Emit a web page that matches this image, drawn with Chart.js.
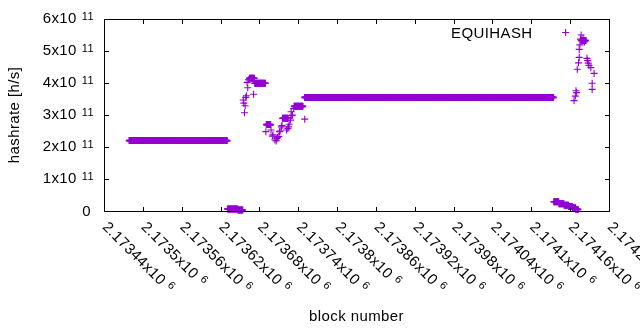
<!DOCTYPE html>
<html><head><meta charset="utf-8">
<script src="https://cdn.jsdelivr.net/npm/chart.js@4/dist/chart.umd.min.js"></script>
<style>html,body{margin:0;padding:0;background:#fff}canvas{display:block}</style>
</head><body>
<canvas id="c" width="640" height="330"></canvas>
<script>
// ---- data (block number vs hashrate [h/s]) ----
const seriesLabel = 'EQUIHASH';
const xTitle = 'block number';
const yTitle = 'hashrate [h/s]';
const xTickValues = [2173440, 2173500, 2173560, 2173620, 2173680, 2173740, 2173800, 2173860, 2173920, 2173980, 2174040, 2174100, 2174160, 2174220];
const yTickValues = [0, 1e11, 2e11, 3e11, 4e11, 5e11, 6e11];

// runs of consecutive blocks sharing the same hashrate estimate
const runStart = [2173479, 2173631, 2173647, 2173665, 2173673, 2173691, 2173716, 2173734, 2173750, 2174135, 2174143, 2174151, 2174158, 2174164, 2174169, 2174177];
const runEnd   = [2173630, 2173646, 2173654, 2173672, 2173689, 2173697, 2173724, 2173747, 2174134, 2174142, 2174150, 2174157, 2174163, 2174168, 2174172, 2174184];
const runRate  = [2.20e11, 0.065e11, 0.03e11, 4.15e11, 3.99e11, 2.70e11, 2.90e11, 3.27e11, 3.55e11, 0.29e11, 0.23e11, 0.18e11, 0.14e11, 0.10e11, 0.05e11, 5.33e11];

// isolated blocks
const ptBlock = [2173655, 2173656, 2173657, 2173658, 2173659, 2173660, 2173661, 2173662, 2173663, 2173671,
  2173690, 2173698, 2173700, 2173701, 2173704, 2173706, 2173707, 2173708, 2173710, 2173711, 2173712, 2173714, 2173715,
  2173722, 2173724, 2173725, 2173726, 2173728, 2173729, 2173730, 2173731, 2173733, 2173750,
  2174153, 2174166, 2174168, 2174169, 2174170, 2174171, 2174173, 2174174, 2174174, 2174175, 2174176, 2174177, 2174180, 2174182,
  2174186, 2174187, 2174188, 2174189, 2174192, 2174194, 2174194, 2174197];
const ptRate = [3.47e11, 3.37e11, 3.07e11, 3.29e11, 3.55e11, 3.60e11, 4.02e11, 3.85e11, 4.10e11, 3.65e11,
  2.48e11, 2.53e11, 2.34e11, 2.38e11, 2.22e11, 2.19e11, 2.27e11, 2.30e11, 2.33e11, 2.48e11, 2.50e11, 2.63e11, 2.67e11,
  2.53e11, 2.58e11, 2.63e11, 2.71e11, 2.84e11, 3.10e11, 2.98e11, 3.00e11, 3.20e11, 2.87e11,
  5.58e11, 3.45e11, 3.59e11, 3.76e11, 3.70e11, 4.43e11, 4.63e11, 4.80e11, 5.05e11, 5.19e11, 5.37e11, 5.50e11, 5.40e11, 5.28e11,
  4.77e11, 4.70e11, 4.62e11, 4.55e11, 4.48e11, 3.99e11, 3.80e11, 4.30e11];

// ---- build chart data ----
const runPoints = [];
for (let i = 0; i < runStart.length; i++) {
  for (let b = runStart[i]; b <= runEnd[i]; b++) runPoints.push({x: b, y: runRate[i]});
}
const scatterPoints = ptBlock.map((b, i) => ({x: b, y: ptRate[i]}));

const COLOR = '#9400D3';
const FONT = '15px "Liberation Sans", Arial, sans-serif';
const SUP = '11px "Liberation Sans", Arial, sans-serif';

const frame = {
  id: 'frame',
  afterDatasetsDraw(chart) {
    const {ctx, chartArea: a, scales: {x, y}} = chart;
    ctx.save();
    ctx.strokeStyle = '#000'; ctx.lineWidth = 1;
    const L = Math.round(a.left) + 0.5, R = Math.round(a.right) + 0.5, T = Math.round(a.top) + 0.5, B = Math.round(a.bottom) + 0.5;
    ctx.beginPath();
    ctx.rect(L, T, R - L, B - T);
    xTickValues.forEach(v => {
      const px = Math.round(x.getPixelForValue(v)) + 0.5;
      ctx.moveTo(px, B); ctx.lineTo(px, B - 4.5);
      ctx.moveTo(px, T); ctx.lineTo(px, T + 4.5);
    });
    yTickValues.forEach(v => {
      const py = Math.round(y.getPixelForValue(v)) + 0.5;
      ctx.moveTo(L, py); ctx.lineTo(L + 4.5, py);
      ctx.moveTo(R, py); ctx.lineTo(R - 4.5, py);
    });
    ctx.stroke();

    ctx.fillStyle = '#000';
    ctx.letterSpacing = '0.4px';
    // y tick labels
    yTickValues.forEach(v => {
      const py = y.getPixelForValue(v);
      ctx.textBaseline = 'alphabetic';
      if (v === 0) {
        ctx.font = FONT; ctx.textAlign = 'right';
        ctx.fillText('0', 91, py + 4.5);
        return;
      }
      const e = Math.floor(Math.log10(v) + 1e-9);
      const m = Math.round(v / Math.pow(10, e));
      const exp = String(e);
      ctx.font = SUP;
      const we = ctx.measureText(exp).width;
      const supX = 94 - we;
      ctx.textAlign = 'left';
      ctx.fillText(exp, supX, py + 1);
      ctx.font = FONT; ctx.textAlign = 'right';
      ctx.fillText(m + 'x10', supX - 5, py + 4.3);
    });
    // x tick labels (rotated)
    xTickValues.forEach(v => {
      const px = x.getPixelForValue(v);
      ctx.save();
      ctx.translate(px + 0.6, 224.7);
      ctx.rotate(Math.PI / 4);
      ctx.font = FONT; ctx.textAlign = 'left'; ctx.textBaseline = 'middle';
      const s = String(+(v / 1e6).toFixed(5)) + 'x10';
      ctx.fillText(s, 0, 0);
      const w = ctx.measureText(s).width;
      ctx.font = SUP;
      ctx.fillText('6', w + 5, -4);
      ctx.restore();
    });
    // axis titles
    ctx.font = FONT;
    ctx.textAlign = 'center'; ctx.textBaseline = 'alphabetic';
    ctx.fillText(xTitle, (a.left + a.right) / 2, 321);
    ctx.save();
    ctx.translate(14.5, (a.top + a.bottom) / 2);
    ctx.rotate(-Math.PI / 2);
    ctx.textBaseline = 'middle';
    ctx.fillText(yTitle, 0, 0);
    ctx.restore();
    // key text
    ctx.textAlign = 'left'; ctx.textBaseline = 'alphabetic';
    ctx.fillText(seriesLabel, 451, 37.5);
    ctx.restore();
  }
};

const style = {
  showLine: false, pointStyle: 'cross', pointRadius: 3.5, pointHoverRadius: 3.5,
  borderColor: COLOR, backgroundColor: COLOR, clip: false
};

new Chart(document.getElementById('c').getContext('2d'), {
  type: 'scatter',
  data: {datasets: [
    Object.assign({label: seriesLabel, data: runPoints, pointBorderWidth: 1.6}, style),
    Object.assign({label: seriesLabel, data: scatterPoints, pointBorderWidth: 1.1}, style)
  ]},
  options: {
    responsive: false, animation: false, events: [],
    layout: {padding: {top: 19, right: 31, left: 0, bottom: 0}},
    plugins: {legend: {display: false}, tooltip: {enabled: false}},
    scales: {
      x: {type: 'linear', min: xTickValues[0], max: xTickValues[xTickValues.length - 1],
          ticks: {display: false}, grid: {display: false}, border: {display: false},
          afterFit(s) { s.height = 119; }},
      y: {type: 'linear', min: yTickValues[0], max: yTickValues[yTickValues.length - 1],
          ticks: {display: false}, grid: {display: false}, border: {display: false},
          afterFit(s) { s.width = 104; }}
    }
  },
  plugins: [frame]
});
</script>
</body></html>
